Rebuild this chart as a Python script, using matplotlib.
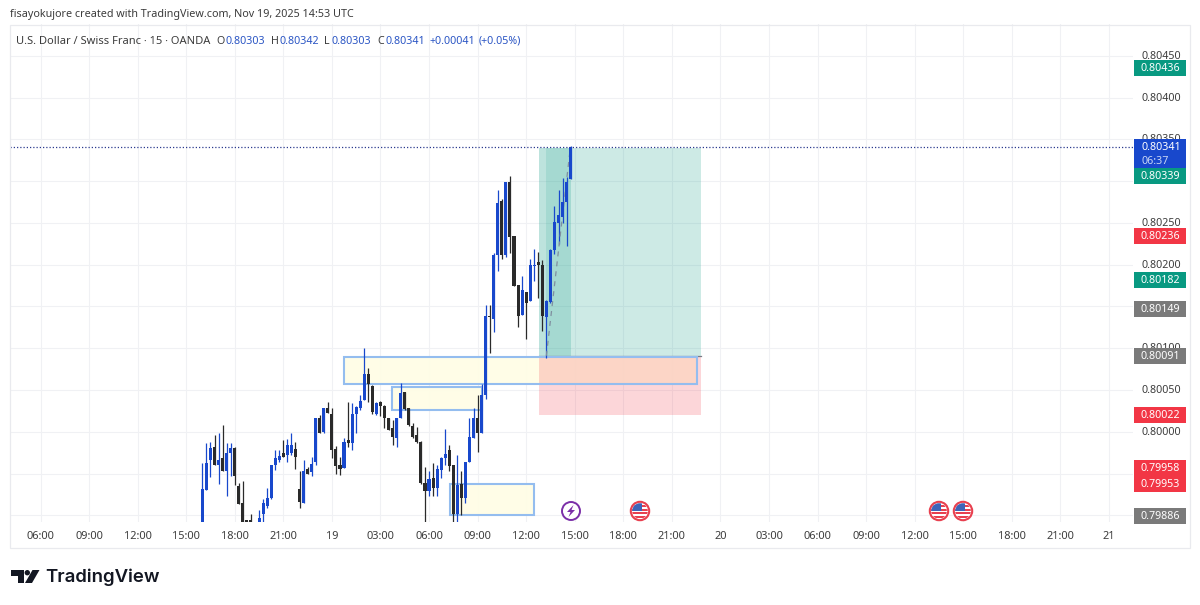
import matplotlib
matplotlib.use('Agg')
import matplotlib.pyplot as plt
import numpy as np
from matplotlib.patches import Rectangle, Circle, Polygon

plt.rcParams['font.family'] = ['Noto Sans', 'DejaVu Sans']

# candles, 15 min bars, first bar is no. 40 counted from 06:00 on the 18th
first_bar = 40
opens = [0.79892, 0.79930, 0.79966, 0.79982, 0.79960, 0.79968, 0.79953, 0.79974, 0.79980, 0.79935,
         0.79915, 0.79893, 0.79893, 0.79885, 0.79892, 0.79901, 0.79911, 0.79921, 0.79960, 0.79966,
         0.79974, 0.79972, 0.79974, 0.79979, 0.79932, 0.79915, 0.79955, 0.79952, 0.79964, 0.80017,
         0.80000, 0.80029, 0.80021, 0.79979, 0.79960, 0.79957, 0.79990, 0.79986, 0.80021, 0.80028,
         0.80038, 0.80069, 0.80055, 0.80021, 0.80036, 0.80031, 0.80016, 0.80004, 0.79993, 0.80017,
         0.80047, 0.80028, 0.80007, 0.79996, 0.79988, 0.79939, 0.79929, 0.79945, 0.79933, 0.79954,
         0.79969, 0.79978, 0.79960, 0.79901, 0.79937, 0.79921, 0.79964, 0.79992, 0.80017, 0.79998,
         0.80044, 0.80139, 0.80135, 0.80211, 0.80276, 0.80211, 0.80299, 0.80234, 0.80176, 0.80140,
         0.80167, 0.80156, 0.80198, 0.80203, 0.80199, 0.80137, 0.80155, 0.80217, 0.80250, 0.80257,
         0.80275, 0.80303]
highs = [0.79963, 0.79986, 0.79988, 0.79996, 0.79998, 0.80008, 0.79986, 0.79986, 0.79982, 0.79939,
         0.79941, 0.79893, 0.79901, 0.79890, 0.79906, 0.79919, 0.79933, 0.79960, 0.79978, 0.79978,
         0.79990, 0.79991, 0.79998, 0.79988, 0.79953, 0.79966, 0.79958, 0.79970, 0.80017, 0.80020,
         0.80029, 0.80036, 0.80029, 0.79983, 0.79970, 0.79993, 0.80036, 0.80034, 0.80031, 0.80044,
         0.80100, 0.80076, 0.80056, 0.80036, 0.80037, 0.80032, 0.80017, 0.80014, 0.80017, 0.80058,
         0.80048, 0.80029, 0.80011, 0.80006, 0.79989, 0.79958, 0.79953, 0.79963, 0.79960, 0.79970,
         0.80003, 0.79984, 0.79960, 0.79972, 0.79953, 0.79964, 0.80017, 0.80028, 0.80044, 0.80057,
         0.80152, 0.80152, 0.80214, 0.80289, 0.80279, 0.80299, 0.80306, 0.80234, 0.80176, 0.80186,
         0.80167, 0.80207, 0.80219, 0.80215, 0.80205, 0.80158, 0.80219, 0.80270, 0.80289, 0.80304,
         0.80305, 0.80342]
lows = [0.79885, 0.79930, 0.79946, 0.79960, 0.79937, 0.79953, 0.79923, 0.79947, 0.79936, 0.79913,
        0.79885, 0.79885, 0.79885, 0.79875, 0.79885, 0.79885, 0.79909, 0.79919, 0.79954, 0.79964,
        0.79970, 0.79964, 0.79972, 0.79956, 0.79909, 0.79915, 0.79949, 0.79947, 0.79960, 0.79998,
        0.79999, 0.80022, 0.79968, 0.79949, 0.79948, 0.79957, 0.79982, 0.79978, 0.79999, 0.80026,
        0.80038, 0.80036, 0.80021, 0.80020, 0.80019, 0.80004, 0.80002, 0.79984, 0.79982, 0.80017,
        0.80026, 0.80007, 0.79992, 0.79986, 0.79938, 0.79885, 0.79923, 0.79923, 0.79923, 0.79945,
        0.79960, 0.79953, 0.79885, 0.79885, 0.79900, 0.79915, 0.79964, 0.79992, 0.79976, 0.79998,
        0.80039, 0.80094, 0.80119, 0.80192, 0.80207, 0.80209, 0.80214, 0.80174, 0.80125, 0.80140,
        0.80111, 0.80156, 0.80181, 0.80160, 0.80121, 0.80088, 0.80154, 0.80213, 0.80225, 0.80250,
        0.80222, 0.80303]
closes = [0.79932, 0.79963, 0.79980, 0.79960, 0.79966, 0.79953, 0.79974, 0.79980, 0.79947, 0.79914,
          0.79885, 0.79892, 0.79892, 0.79880, 0.79897, 0.79915, 0.79921, 0.79960, 0.79968, 0.79971,
          0.79970, 0.79984, 0.79984, 0.79970, 0.79916, 0.79953, 0.79949, 0.79961, 0.80017, 0.79998,
          0.80029, 0.80023, 0.79978, 0.79959, 0.79956, 0.79988, 0.79986, 0.80021, 0.80030, 0.80037,
          0.80069, 0.80057, 0.80024, 0.80035, 0.80031, 0.80016, 0.80002, 0.79994, 0.80017, 0.80046,
          0.80027, 0.80008, 0.79994, 0.79988, 0.79939, 0.79929, 0.79943, 0.79933, 0.79956, 0.79968,
          0.79973, 0.79959, 0.79901, 0.79936, 0.79921, 0.79964, 0.79994, 0.80017, 0.79998, 0.80044,
          0.80139, 0.80137, 0.80212, 0.80274, 0.80212, 0.80299, 0.80233, 0.80174, 0.80138, 0.80170,
          0.80154, 0.80199, 0.80199, 0.80199, 0.80138, 0.80156, 0.80218, 0.80251, 0.80259, 0.80275,
          0.80299, 0.80341]

# axis labels
price_ticks = [0.80450, 0.80400, 0.80350, 0.80300, 0.80250, 0.80200, 0.80150, 0.80100, 0.80050,
               0.80000, 0.79950, 0.79900]
# the tags hide the other grid prices completely
price_labels = [0.80450, 0.80400, 0.80350, 0.80300, 0.80250, 0.80200, 0.80100, 0.80050, 0.80000]
time_labels = ['06:00', '09:00', '12:00', '15:00', '18:00', '21:00', '19', '03:00', '06:00', '09:00',
               '12:00', '15:00', '18:00', '21:00', '20', '03:00', '06:00', '09:00', '12:00', '15:00',
               '18:00', '21:00', '21']

# zones: start bar, end bar, top, bottom
zone_bars = [(75.0, 162.2), (86.9, 109.1), (101.2, 121.9)]
zone_prices = [(0.80089, 0.80057), (0.80054, 0.80026), (0.79938, 0.79900)]

# long position tool
pos_bars = (123.2, 163.2)
pos_entry = 0.80091
pos_target = 0.80339
pos_stop = 0.80020
last_price = 0.80341

# price scale tags
tag_texts = ['0.80436', '0.80339', '0.80236', '0.80182', '0.80149', '0.80091', '0.80022', '0.79886']
tag_colors = ['#089981', '#089981', '#f23645', '#089981', '#7a7a7a', '#7a7a7a', '#f23645', '#7a7a7a']

BLUE = '#1848cc'
BLACK = '#2a2a2a'
GRID = '#f0f1f4'
TEXT = '#3c3c3c'
FS = 7.7

W, H = 1200, 605
PX_BAR = 4.047
fig = plt.figure(figsize=(12, 6.05), dpi=100, facecolor='white')

# chart pane, pixel box 10..1133 / 24..522
ax = fig.add_axes([10 / W, 1 - 522 / H, 1123 / W, 498 / H])
ax.set_xlim((10 - 40.5) / PX_BAR, (1133 - 40.5) / PX_BAR)
ax.set_ylim(0.79892, 0.80488)
for s in ax.spines.values():
    s.set_visible(False)
time_ticks = np.arange(len(time_labels)) * 12
ax.set_xticks(time_ticks)
ax.set_xticklabels(time_labels, fontsize=7.9, color=TEXT)
ax.tick_params(axis='x', length=0, pad=6.5)
ax.set_yticks(price_ticks)
ax.set_yticklabels([])
ax.tick_params(axis='y', length=0)
ax.grid(True, color=GRID, lw=0.8)
ax.set_axisbelow(True)

# zone fills go under the position tool
for (z0, z1), (top, bot) in zip(zone_bars, zone_prices):
    ax.add_patch(Rectangle((z0, bot), z1 - z0, top - bot, fc='#fffde6', ec='none', alpha=0.95, zorder=0.9))

# long position boxes
x0, x1 = pos_bars
ax.add_patch(Rectangle((x0, pos_entry), x1 - x0, pos_target - pos_entry, fc='#089981', alpha=0.2, lw=0, zorder=1))
ax.add_patch(Rectangle((x0, pos_stop), x1 - x0, pos_entry - pos_stop, fc='#f23645', alpha=0.2, lw=0, zorder=1))
ax.add_patch(Rectangle((x0, pos_entry), 125 - x0, pos_target - pos_entry, fc='#089981', alpha=0.08, lw=0, zorder=1))
ax.add_patch(Rectangle((125, pos_entry), 131 - 125, pos_target - pos_entry, fc='#089981', alpha=0.2, lw=0, zorder=1))
ax.plot([x0, x1], [pos_entry, pos_entry], color='#787b86', lw=0.9, zorder=2)

# zone borders
for (z0, z1), (top, bot) in zip(zone_bars, zone_prices):
    ax.add_patch(Rectangle((z0, bot), z1 - z0, top - bot, fc='none', ec='#94bdef', lw=1.5, zorder=2.5))

# candles
bars = np.arange(first_bar, first_bar + len(opens))
o = np.array(opens)
h = np.array(highs)
l = np.array(lows)
c = np.array(closes)
colors = [BLUE if cl >= op else BLACK for op, cl in zip(o, c)]
ax.vlines(bars, l, h, colors=colors, lw=0.9, zorder=3)
bottoms = np.minimum(o, c)
heights = np.maximum(np.abs(c - o), 0.00002)
ax.bar(bars, heights, bottom=bottoms, width=0.76, color=colors, lw=0, zorder=4)

# path of the trade
ax.plot([125, 130.9], [pos_entry, pos_target], color='#7f8f9f', lw=0.9, ls=(0, (4, 4)), zorder=3.5)

# last price line
ax.axhline(last_price, color='#2b3a8f', lw=0.9, ls=(0, (1, 1.6)), zorder=5)

# everything else is placed in pixels on a full figure layer
ov = fig.add_axes([0, 0, 1, 1], facecolor='none')
ov.set_xlim(0, W)
ov.set_ylim(H, 0)
ov.axis('off')

# outer frame
ov.add_patch(Rectangle((9.5, 24.5), 1180.5, 523.5, fc='none', ec='#e9eaee', lw=0.9))

ov.text(10, 14.5, 'fisayokujore created with TradingView.com, Nov 19, 2025 14:53 UTC',
        fontsize=7.75, color=TEXT, va='center')

# legend row
LEG_Y = 43.5
ov.text(16.5, LEG_Y, 'U.S. Dollar / Swiss Franc · 15 · OANDA', fontsize=8.0, color=TEXT, va='baseline')
LEG_BLUE = '#2a55c4'
for label, x_lab, val, x_val in [('O', 216.5, '0.80303', 225.5), ('H', 270.5, '0.80342', 279.5),
                                 ('L', 324, '0.80303', 331), ('C', 377.5, '0.80341', 386)]:
    ov.text(x_lab, LEG_Y, label, fontsize=FS, color=TEXT, va='baseline')
    ov.text(x_val, LEG_Y, val, fontsize=FS, color=LEG_BLUE, va='baseline')
ov.text(430, LEG_Y, '+0.00041', fontsize=FS, color=LEG_BLUE, va='baseline')
ov.text(479, LEG_Y, '(+0.05%)', fontsize=FS, color=LEG_BLUE, va='baseline')

# price axis numbers, tags sit on top of them
for p in price_labels:
    yp = 432 - (p - 0.8) / 0.00001196
    ov.text(1141, yp + 0.5, '%.5f' % p, fontsize=FS, color=TEXT, va='center', zorder=2)

tag_top = [60, 168, 228, 272, 301, 348, 407, 508]
for txt, col, top in zip(tag_texts, tag_colors, tag_top):
    ov.add_patch(Rectangle((1134, top), 52, 16, fc=col, lw=0, zorder=3))
    ov.text(1160, top + 8.5, txt, fontsize=FS, color='white', ha='center', va='center', fontweight='medium', zorder=4)

# current price tag with countdown
ov.add_patch(Rectangle((1134, 139), 52, 29, fc=BLUE, lw=0, zorder=3))
ov.text(1141, 147.5, '0.80341', fontsize=FS, color='white', va='center', zorder=4)
ov.text(1141, 161, '06:37', fontsize=FS, color='#c9d6f5', va='center', zorder=4)

# the two stacked red tags
ov.add_patch(Rectangle((1134, 460), 52, 32, fc='#f23645', lw=0, zorder=3))
ov.text(1160, 468.5, '0.79958', fontsize=FS, color='white', ha='center', va='center', zorder=4)
ov.text(1160, 484.5, '0.79953', fontsize=FS, color='white', ha='center', va='center', zorder=4)

# event icons
ov.add_patch(Circle((571, 511), 9, fc='white', ec='#7b2fa8', lw=1.4, zorder=6))
ov.add_patch(Polygon([(573.5, 505), (567, 512), (570.5, 512), (568.5, 517), (575, 510), (571.5, 510)],
                     fc='#7b2fa8', lw=0, zorder=7))


def us_flag(cx, cy):
    ov.add_patch(Circle((cx, cy), 9.2, fc='white', ec='#e8404f', lw=1.5, zorder=6))
    clip = Circle((cx, cy), 7.8, transform=ov.transData)
    for yy in [cy - 5.5, cy - 1.5, cy + 2, cy + 5.5]:
        r = Rectangle((cx - 9, yy - 1), 18, 2, fc='#e8404f', lw=0, zorder=7)
        ov.add_patch(r)
        r.set_clip_path(clip)
    r = Rectangle((cx - 8, cy - 8), 9.5, 8, fc='#3e64b8', lw=0, zorder=8)
    ov.add_patch(r)
    r.set_clip_path(clip)


for cx in [640, 939, 963]:
    us_flag(cx, 511)

# TradingView logo
ov.add_patch(Polygon([(11, 570), (24, 570), (24, 583), (17.5, 583), (17.5, 575.5), (11, 575.5)], fc='#131722', lw=0))
ov.add_patch(Circle((27.3, 572.7), 2.7, fc='#131722', lw=0))
ov.add_patch(Polygon([(32.5, 570), (39.5, 570), (32, 583), (25, 583)], fc='#131722', lw=0))
ov.text(45.5, 577, 'TradingView', fontsize=13.4, color='#131722', va='center', family=['Inter', 'DejaVu Sans'],
        fontweight='semibold')

fig.savefig('out.png', dpi=100)
